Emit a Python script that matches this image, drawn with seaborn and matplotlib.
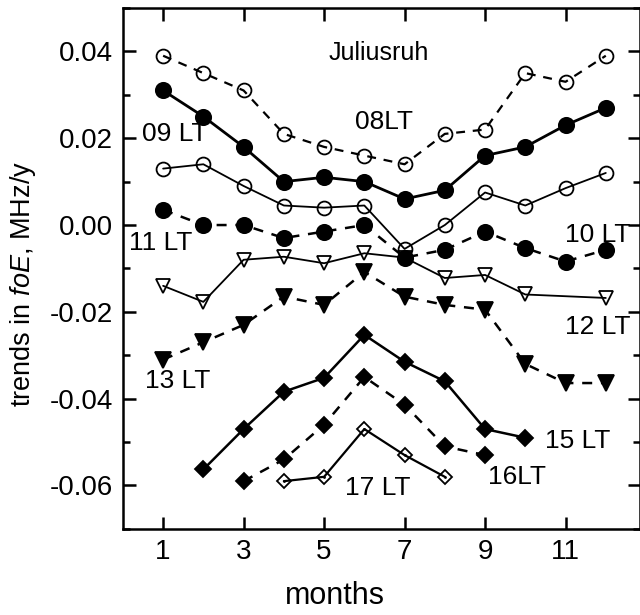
import matplotlib
matplotlib.use("Agg")
import matplotlib.pyplot as plt
from matplotlib.ticker import MultipleLocator, FormatStrFormatter
import seaborn as sns
import pandas as pd

# trends in foE at Juliusruh, per month, for each local time
months = [1, 2, 3, 4, 5, 6, 7, 8, 9, 10, 11, 12]
lt08 = [0.039, 0.035, 0.031, 0.021, 0.018, 0.016, 0.014, 0.021, 0.022, 0.035, 0.033, 0.039]
lt09 = [0.031, 0.025, 0.018, 0.010, 0.011, 0.010, 0.006, 0.008, 0.016, 0.018, 0.023, 0.027]
lt10 = [0.013, 0.014, 0.009, 0.0045, 0.004, 0.0045, -0.0055, 0.0, 0.0075, 0.0045, 0.0085, 0.012]
lt11 = [0.0035, 0.0, 0.0, -0.003, -0.0015, 0.0, -0.0075, -0.0057, -0.0015, -0.0053, -0.0084, -0.0057]
months12 = [1, 2, 3, 4, 5, 6, 7, 8, 9, 10, 12]
lt12 = [-0.014, -0.0177, -0.008, -0.0073, -0.0088, -0.0065, -0.0075, -0.0122, -0.0115, -0.016, -0.0168]
lt13 = [-0.031, -0.027, -0.023, -0.0165, -0.0184, -0.0108, -0.0165, -0.0184, -0.0195, -0.032, -0.0364, -0.0364]
months15 = [2, 3, 4, 5, 6, 7, 8, 9, 10]
lt15 = [-0.0563, -0.047, -0.0384, -0.0352, -0.0253, -0.0315, -0.036, -0.047, -0.049]
months16 = [3, 4, 5, 6, 7, 8, 9]
lt16 = [-0.059, -0.054, -0.046, -0.035, -0.0414, -0.051, -0.053]
months17 = [4, 5, 6, 7, 8]
lt17 = [-0.059, -0.058, -0.047, -0.053, -0.058]

sns.set_style("ticks", {"axes.edgecolor": "black", "text.color": "black",
                        "axes.labelcolor": "black", "xtick.color": "black",
                        "ytick.color": "black"})
plt.rcParams['font.family'] = ['Liberation Sans', 'DejaVu Sans']
plt.rcParams['axes.unicode_minus'] = False
plt.rcParams['mathtext.fontset'] = 'custom'
plt.rcParams['mathtext.rm'] = 'Liberation Sans'
plt.rcParams['mathtext.it'] = 'Liberation Sans:italic'

fig = plt.figure(figsize=(6.4, 6.15), dpi=100)
ax = fig.add_axes([0.192, 0.14, 0.808, 0.847])

dash = (0, (4, 3.5))
series = [
    # x, y, marker, filled, linestyle, linewidth, markersize
    (months, lt08, 'o', False, dash, 1.6, 10),
    (months, lt09, 'o', True, '-', 2.0, 11),
    (months, lt10, 'o', False, '-', 1.3, 10),
    (months, lt11, 'o', True, dash, 1.8, 11),
    (months12, lt12, 'v', False, '-', 1.3, 10),
    (months, lt13, 'v', True, dash, 1.8, 11),
    (months15, lt15, 'D', True, '-', 1.8, 8.5),
    (months16, lt16, 'D', True, dash, 1.8, 8.5),
    (months17, lt17, 'D', False, '-', 1.6, 7.5),
]

for x, y, mk, filled, ls, lw, ms in series:
    df = pd.DataFrame({'month': x, 'trend': y})
    sns.lineplot(data=df, x='month', y='trend', ax=ax, color='black',
                 marker=mk, markersize=ms, linestyle=ls, linewidth=lw,
                 mec='black', mew=1.3,
                 mfc='black' if filled else 'none')

# dots inside the 17 LT diamonds
sns.scatterplot(x=months17, y=lt17, ax=ax, color='black', s=4, linewidth=0)

ax.set_xlim(0, 12.85)
ax.set_ylim(-0.07, 0.05)
ax.set_xticks([1, 3, 5, 7, 9, 11])
ax.yaxis.set_major_locator(MultipleLocator(0.02))
ax.yaxis.set_minor_locator(MultipleLocator(0.01))
ax.yaxis.set_major_formatter(FormatStrFormatter('%.2f'))
ax.tick_params(which='both', direction='in', top=True, right=True,
               width=1.8, labelsize=20, pad=7)
ax.tick_params(which='major', length=9)
ax.tick_params(which='minor', length=5)
for s in ax.spines.values():
    s.set_linewidth(1.8)

ax.set_xlabel('months', fontsize=22)
ax.xaxis.set_label_coords(0.41, -0.1)
ax.set_ylabel(r'trends in $\it{foE}$, MHz/y', fontsize=19.5)
ax.yaxis.set_label_coords(-0.165, 0.47)

ax.text(6.35, 0.0397, 'Juliusruh', fontsize=18, ha='center', va='center')
ax.text(6.5, 0.0237, '08LT', fontsize=19, ha='center', va='center')
ax.text(1.3, 0.021, '09 LT', fontsize=19, ha='center', va='center')
ax.text(11.8, -0.0023, '10 LT', fontsize=19, ha='center', va='center')
ax.text(0.95, -0.0041, '11 LT', fontsize=19, ha='center', va='center')
ax.text(11.8, -0.0234, '12 LT', fontsize=19, ha='center', va='center')
ax.text(1.35, -0.036, '13 LT', fontsize=19, ha='center', va='center')
ax.text(11.3, -0.0497, '15 LT', fontsize=19, ha='center', va='center')
ax.text(9.8, -0.058, '16LT', fontsize=19, ha='center', va='center')
ax.text(6.33, -0.0605, '17 LT', fontsize=19, ha='center', va='center')

fig.savefig('out.png', dpi=100)
